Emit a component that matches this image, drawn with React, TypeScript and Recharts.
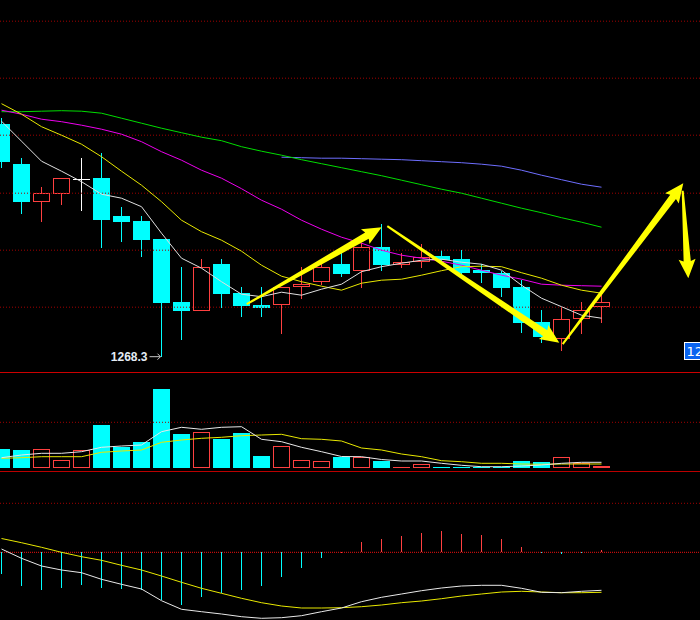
import React from 'react';
import { ComposedChart, Bar, Line, XAxis, YAxis, ReferenceLine, ReferenceDot } from 'recharts';

// ---------- data ----------
const idx = [0,1,2,3,4,5,6,7,8,9,10,11,12,13,14,15,16,17,18,19,20,21,22,23,24,25,26,27,28,29,30];
const open = [1314.8,1306.8,1299.3,1300.9,1303.9,1304.0,1296.4,1295.4,1291.8,1279.2,1277.5,1286.8,1281.0,1278.6,1278.6,1282.2,1283.2,1286.8,1285.5,1290.2,1286.7,1287.2,1288.4,1287.8,1285.6,1285.0,1282.2,1275.2,1271.8,1275.8,1278.2];
const high = [1316.0,1308.0,1302.2,1304.0,1308.0,1309.0,1298.2,1296.4,1291.8,1286.2,1287.8,1287.8,1282.2,1282.2,1282.2,1286.2,1287.0,1289.0,1291.0,1294.8,1289.0,1290.8,1289.6,1289.6,1286.8,1285.5,1283.6,1277.6,1278.3,1279.2,1280.6];
const low = [1306.1,1296.8,1295.3,1298.6,1297.5,1290.1,1291.3,1288.3,1268.3,1271.6,1277.5,1278.1,1276.3,1276.3,1272.9,1279.8,1282.6,1284.3,1282.1,1285.5,1286.1,1286.1,1287.2,1284.4,1283.0,1280.3,1273.0,1271.1,1269.5,1272.9,1275.1];
const close = [1307.3,1299.3,1301.0,1304.0,1303.9,1295.7,1295.3,1291.7,1279.1,1277.5,1286.2,1280.9,1278.4,1278.1,1282.2,1282.8,1286.2,1284.9,1290.2,1286.7,1287.2,1288.3,1287.6,1285.0,1285.0,1282.1,1275.1,1272.3,1275.8,1277.6,1279.2];

const ma5 = [1315.4,1311.4,1307.4,1305.4,1303.3,1300.8,1300.0,1298.3,1293.0,1288.0,1286.0,1283.3,1280.8,1280.3,1281.2,1280.6,1281.8,1282.8,1285.3,1286.3,1287.0,1287.6,1287.8,1287.2,1286.8,1285.6,1282.6,1280.0,1278.3,1276.6,1276.0];
const ma10 = [1318.9,1316.8,1314.3,1312.6,1310.8,1308.3,1305.4,1302.6,1299.3,1295.6,1293.3,1291.6,1289.4,1286.6,1284.4,1283.3,1282.4,1281.6,1283.0,1283.6,1283.8,1284.6,1285.5,1286.3,1286.4,1286.3,1285.1,1284.0,1282.6,1281.6,1281.0];
const ma20 = [1317.6,1316.8,1315.8,1315.3,1314.6,1313.8,1312.8,1311.3,1309.3,1307.6,1305.6,1304.0,1301.9,1299.6,1297.8,1295.6,1293.8,1292.2,1291.0,1289.6,1288.6,1288.0,1287.4,1286.6,1285.6,1284.6,1283.8,1282.8,1282.6,1282.5,1282.4];
const ma60 = [1317.3,1317.3,1317.4,1317.5,1317.4,1317.0,1316.0,1315.0,1314.0,1313.1,1312.2,1311.5,1310.3,1309.4,1308.6,1307.7,1306.9,1306.1,1305.3,1304.5,1303.6,1302.7,1301.8,1301.0,1300.0,1299.0,1298.0,1297.1,1296.1,1295.2,1294.2];
const ma120 = [null,null,null,null,null,null,null,null,null,null,null,null,null,null,1308.2,1308.1,1308.0,1308.0,1307.9,1307.8,1307.7,1307.5,1307.3,1307.1,1306.8,1306.4,1305.6,1304.6,1303.7,1302.8,1302.2];

const volume = [1870,1770,1840,740,1740,4270,2100,2570,7870,3370,3540,2900,3470,1170,2140,740,640,1070,1040,670,70,370,70,70,70,100,670,570,1040,470,170];
const volMa5 = [1000,1270,1440,1440,1600,2040,2170,2270,3600,4040,3840,4040,4100,2840,2600,2040,1600,1120,1100,820,670,670,440,240,100,100,170,270,440,540,540];
const volMa10 = [940,1000,1100,1100,1100,1540,1670,1770,2540,2770,2940,3040,3200,3270,3340,2900,2840,2670,1970,1770,1370,1100,700,600,440,440,370,340,370,370,370];

const macdHist = [-2.17,-3.37,-3.77,-3.57,-3.27,-3.57,-3.67,-3.77,-4.77,-5.27,-4.47,-4.10,-3.77,-3.37,-2.44,-1.54,-0.54,0.08,1.03,1.33,1.63,1.93,2.13,1.83,1.73,1.33,0.53,-0.10,-0.14,-0.04,0.23];
const dif = [0.33,-0.60,-1.37,-1.77,-2.04,-2.70,-3.20,-3.67,-4.84,-5.70,-5.94,-6.17,-6.44,-6.60,-6.54,-6.34,-5.94,-5.57,-4.94,-4.50,-4.17,-3.84,-3.57,-3.37,-3.30,-3.30,-3.60,-4.00,-4.04,-3.90,-3.80];
const dea = [1.38,0.96,0.50,0.00,-0.44,-0.80,-1.30,-1.77,-2.37,-3.00,-3.60,-4.10,-4.60,-5.04,-5.37,-5.57,-5.57,-5.54,-5.44,-5.27,-5.04,-4.87,-4.64,-4.37,-4.17,-3.97,-3.90,-3.97,-4.04,-4.04,-4.00];

const priceGrid = [1335.4, 1324.0, 1312.6, 1301.0, 1289.6, 1278.2];
const volGrid = [4540];
const macdGrid = [4.9];
const lowMarkIndex = 8;
const lowMarkText = '1268.3';
const lastPriceTag = { x: 34.125, price: 1269.5, text: '1269.5' };

const arrows = [
  { x1: 12.26, y1: 1278.8, x2: 19.01, y2: 1294.2 },
  { x1: 19.29, y1: 1294.4, x2: 27.89, y2: 1271.1 },
  { x1: 28.06, y1: 1270.8, x2: 34.09, y2: 1303.0 },
  { x1: 34.06, y1: 1301.5, x2: 34.34, y2: 1284.0 },
];

// ---------- styles ----------
const W = 700;
const CYAN = '#00ffff';
const RED = '#ff4040';
const YELLOW = '#ffff00';
const GRID = '#a00000';
const X_DOMAIN: [number, number] = [-0.075, 34.925];
const PRICE_DOMAIN: [number, number] = [1265.24, 1339.64];
const VOL_DOMAIN: [number, number] = [-330, 9570];
const MACD_DOMAIN: [number, number] = [-6.77, 8.03];

const data = idx.map((i, k) => ({
  i,
  open: open[k], high: high[k], low: low[k], close: close[k],
  range: [low[k], high[k]],
  ma5: ma5[k], ma10: ma10[k], ma20: ma20[k], ma60: ma60[k], ma120: ma120[k],
  vol: volume[k], vma5: volMa5[k], vma10: volMa10[k],
  hist: macdHist[k], dif: dif[k], dea: dea[k],
}));

const CRISP = 'crispEdges';

const Candle = (props: any) => {
  const { x, y, width, height, payload } = props;
  if (x == null || y == null || !payload) return null;
  const top = Math.min(y, y + height);
  const bot = Math.max(y, y + height);
  const span = payload.high - payload.low;
  const toPx = (v: number) => (span === 0 ? top : top + ((payload.high - v) / span) * (bot - top));
  const cx = Math.floor(x + width / 2) + 0.5;
  const left = Math.round(x);
  const oy = toPx(payload.open);
  const cy = toPx(payload.close);
  const bTop = Math.round(Math.min(oy, cy));
  const bBot = Math.round(Math.max(oy, cy));
  const t = Math.round(top);
  const b = Math.round(bot);
  if (payload.close === payload.open) {
    return (
      <g shapeRendering={CRISP}>
        <line x1={cx} x2={cx} y1={t} y2={b} stroke="#ffffff" strokeWidth={1} />
        <line x1={left} x2={left + width} y1={bTop + 0.5} y2={bTop + 0.5} stroke="#ffffff" strokeWidth={1} />
      </g>
    );
  }
  const up = payload.close > payload.open;
  const color = up ? RED : CYAN;
  if (up) {
    return (
      <g shapeRendering={CRISP}>
        {t < bTop && <line x1={cx} x2={cx} y1={t} y2={bTop} stroke={color} strokeWidth={1} />}
        {bBot < b && <line x1={cx} x2={cx} y1={bBot} y2={b} stroke={color} strokeWidth={1} />}
        <rect x={left + 0.5} y={bTop + 0.5} width={width - 1} height={Math.max(bBot - bTop - 1, 1)} fill="none" stroke={color} strokeWidth={1} />
      </g>
    );
  }
  return (
    <g shapeRendering={CRISP}>
      <line x1={cx} x2={cx} y1={t} y2={b} stroke={color} strokeWidth={1} />
      <rect x={left} y={bTop} width={width} height={Math.max(bBot - bTop, 1)} fill={color} />
    </g>
  );
};

const VolBar = (props: any) => {
  const { x, y, width, height, payload } = props;
  if (x == null || y == null || !payload) return null;
  const top = Math.round(Math.min(y, y + height));
  const bot = Math.round(Math.max(y, y + height));
  const h = bot - top;
  const left = Math.round(x);
  const up = payload.close >= payload.open;
  if (up) {
    if (h < 3) return <rect x={left} y={top} width={width} height={Math.max(h, 1)} fill={RED} shapeRendering={CRISP} />;
    return <rect x={left + 0.5} y={top + 0.5} width={width - 1} height={h - 1} fill="none" stroke={RED} strokeWidth={1} shapeRendering={CRISP} />;
  }
  return <rect x={left} y={top} width={width} height={Math.max(h, 1)} fill={CYAN} shapeRendering={CRISP} />;
};

const MacdBar = (props: any) => {
  const { x, y, width, height, payload } = props;
  if (x == null || y == null || !payload) return null;
  const top = Math.round(Math.min(y, y + height));
  const bot = Math.round(Math.max(y, y + height));
  const cx = Math.floor(x + width / 2) + 0.5;
  return (
    <line x1={cx} x2={cx} y1={top} y2={Math.max(bot, top + 1)} stroke={payload.hist >= 0 ? RED : CYAN} strokeWidth={1} />
  );
};

const ArrowShape = (props: any) => {
  const { x1, y1, x2, y2 } = props;
  if ([x1, y1, x2, y2].some((v) => v == null || Number.isNaN(v))) return null;
  const dx = x2 - x1;
  const dy = y2 - y1;
  const len = Math.sqrt(dx * dx + dy * dy) || 1;
  const ux = dx / len;
  const uy = dy / len;
  const nx = -uy;
  const ny = ux;
  const hl = 17;
  const w0 = 1;
  const w1 = 3.6;
  const hw = 8.5;
  const bx = x2 - ux * hl;
  const by = y2 - uy * hl;
  const pts = [
    [x1 + nx * w0, y1 + ny * w0],
    [bx + nx * w1, by + ny * w1],
    [bx + nx * hw - ux * 2, by + ny * hw - uy * 2],
    [x2, y2],
    [bx - nx * hw - ux * 2, by - ny * hw - uy * 2],
    [bx - nx * w1, by - ny * w1],
    [x1 - nx * w0, y1 - ny * w0],
  ];
  return <polygon points={pts.map((p) => `${p[0]},${p[1]}`).join(' ')} fill={YELLOW} />;
};

const LowMark = (props: any) => {
  const { cx, cy } = props;
  if (cx == null || cy == null) return null;
  return (
    <g>
      <text x={cx - 14} y={cy + 4} textAnchor="end" fontFamily="'Liberation Sans', Arial, sans-serif" fontWeight="bold" fontSize={12} fill="#e4ecf4">
        {lowMarkText}
      </text>
      <line x1={cx - 12} x2={cx - 1} y1={cy} y2={cy} stroke="#c8c8c8" strokeWidth={1} />
      <polyline points={`${cx - 4},${cy - 3} ${cx - 1},${cy} ${cx - 4},${cy + 3}`} fill="none" stroke="#c8c8c8" strokeWidth={1} />
    </g>
  );
};

const PriceTag = (props: any) => {
  const { cx, cy } = props;
  if (cx == null || cy == null) return null;
  return (
    <g>
      <rect x={cx + 0.5} y={cy - 8.2} width={20} height={17} fill="#0a64f0" stroke="#ffffff" strokeWidth={1} />
      <text x={cx + 2.5} y={cy + 5} fontFamily="'DejaVu Sans', sans-serif" fontSize={13} fill="#ffffff">
        {lastPriceTag.text}
      </text>
    </g>
  );
};

const xAxis = <XAxis dataKey="i" type="number" domain={X_DOMAIN} allowDataOverflow hide />;

const lineProps = { strokeWidth: 1, dot: false, activeDot: false, isAnimationActive: false } as const;

export default function App() {
  return (
    <div style={{ position: 'absolute', left: 0, top: 0, width: W, height: 620, background: '#000', overflow: 'hidden' }}>
      {/* price panel */}
      <div style={{ position: 'absolute', left: 0, top: 0 }}>
        <ComposedChart width={W} height={372} data={data} margin={{ top: 0, right: 0, bottom: 0, left: 0 }}>
          {xAxis}
          <YAxis type="number" domain={PRICE_DOMAIN} allowDataOverflow hide />
          {priceGrid.map((p) => (
            <ReferenceLine key={p} y={p} stroke={GRID} strokeDasharray="1 2" />
          ))}
          <Line dataKey="ma120" stroke="#6e6eff" {...lineProps} />
          <Line dataKey="ma60" stroke="#00dd00" {...lineProps} />
          <Line dataKey="ma20" stroke="#ee00ee" {...lineProps} />
          <Line dataKey="ma10" stroke="#e8e800" {...lineProps} />
          <Line dataKey="ma5" stroke="#e0e0e0" {...lineProps} />
          <Bar dataKey="range" barSize={17} shape={(p: any) => <Candle {...p} />} activeBar={false} isAnimationActive={false} />
          <ReferenceDot x={lowMarkIndex} y={low[lowMarkIndex]} r={0} ifOverflow="visible" shape={(p: any) => <LowMark {...p} />} />
          {arrows.map((a, k) => (
            <ReferenceLine
              key={k}
              segment={[{ x: a.x1, y: a.y1 }, { x: a.x2, y: a.y2 }]}
              ifOverflow="visible"
              shape={(p: any) => <ArrowShape {...p} />}
            />
          ))}
          <ReferenceDot x={lastPriceTag.x} y={lastPriceTag.price} r={0} ifOverflow="visible" shape={(p: any) => <PriceTag {...p} />} />
        </ComposedChart>
      </div>
      <div style={{ position: 'absolute', left: 0, top: 372, width: W, height: 1, background: '#cc0000' }} />

      {/* volume panel */}
      <div style={{ position: 'absolute', left: 0, top: 372 }}>
        <ComposedChart width={W} height={99} data={data} margin={{ top: 0, right: 0, bottom: 0, left: 0 }}>
          {xAxis}
          <YAxis type="number" domain={VOL_DOMAIN} allowDataOverflow hide />
          {volGrid.map((v) => (
            <ReferenceLine key={v} y={v} stroke={GRID} strokeDasharray="1 2" />
          ))}
          <Bar dataKey="vol" barSize={17} shape={(p: any) => <VolBar {...p} />} activeBar={false} isAnimationActive={false} />
          <Line dataKey="vma10" stroke="#e8e800" {...lineProps} />
          <Line dataKey="vma5" stroke="#e8e8e8" {...lineProps} />
        </ComposedChart>
      </div>
      <div style={{ position: 'absolute', left: 0, top: 471, width: W, height: 1, background: '#bb0000' }} />

      {/* MACD panel */}
      <div style={{ position: 'absolute', left: 0, top: 472 }}>
        <ComposedChart width={W} height={148} data={data} margin={{ top: 0, right: 0, bottom: 0, left: 0 }}>
          {xAxis}
          <YAxis type="number" domain={MACD_DOMAIN} allowDataOverflow hide />
          {macdGrid.map((v) => (
            <ReferenceLine key={v} y={v} stroke={GRID} strokeDasharray="1 2" />
          ))}
          <ReferenceLine y={0} stroke="#ee1010" strokeDasharray="1 1" />
          <Bar dataKey="hist" barSize={1} shape={(p: any) => <MacdBar {...p} />} activeBar={false} isAnimationActive={false} />
          <Line dataKey="dea" stroke="#e8e800" {...lineProps} />
          <Line dataKey="dif" stroke="#e8e8e8" {...lineProps} />
        </ComposedChart>
      </div>
    </div>
  );
}
